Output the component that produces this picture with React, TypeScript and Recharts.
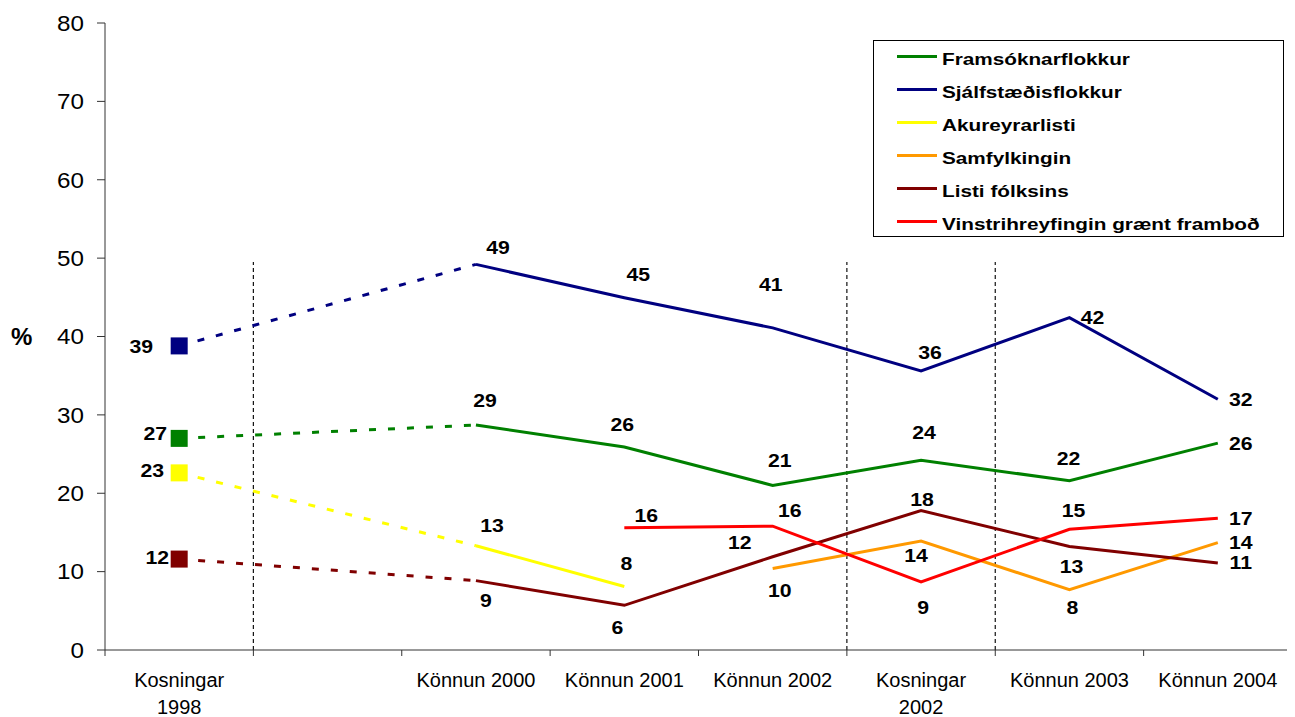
import React from 'react';
import { LineChart, Line, XAxis, YAxis, ReferenceLine, Legend, LabelList } from 'recharts';

// ---------- data ----------
const categories = [
  'Kosningar\n1998',
  '',
  'Könnun 2000',
  'Könnun 2001',
  'Könnun 2002',
  'Kosningar\n2002',
  'Könnun 2003',
  'Könnun 2004',
];
const yTicks = [0, 10, 20, 30, 40, 50, 60, 70, 80];

const framsokn = [27.0, null, 28.7, 25.9, 21.0, 24.2, 21.6, 26.4];
const sjalfstaedis = [38.8, null, 49.2, 44.95, 41.1, 35.6, 42.4, 32.0];
const akureyrarlisti = [22.6, null, 13.3, 8.1, null, null, null, null];
const samfylkingin = [null, null, null, null, 10.4, 13.9, 7.7, 13.7];
const listiFolksins = [11.6, null, 8.85, 5.7, 11.9, 17.8, 13.2, 11.1];
const vinstriGraent = [null, null, null, 15.6, 15.8, 8.7, 15.4, 16.8];

// category boundaries (after these category indices) where a dashed divider is drawn
const dividerAfter = [0, 4, 5];
const dividerTop = 49.5;

// ---------- layout / style ----------
const FONT = '"Liberation Sans", Arial, Helvetica, sans-serif';
const CHART_W = 1287;
const CHART_H = 709;
const MARGIN = { top: 15, right: 3, left: 0, bottom: 0 };
const Y_W = 97;
const X_H = 67;
const PLOT_W = CHART_W - MARGIN.left - MARGIN.right - Y_W;
const HALF_STEP = PLOT_W / categories.length / 2;

type Series = { key: string; name: string; color: string; values: (number | null)[] };

const series: Series[] = [
  { key: 'fram', name: 'Framsóknarflokkur', color: '#008000', values: framsokn },
  { key: 'sjalf', name: 'Sjálfstæðisflokkur', color: '#000080', values: sjalfstaedis },
  { key: 'akur', name: 'Akureyrarlisti', color: '#FFFF00', values: akureyrarlisti },
  { key: 'samf', name: 'Samfylkingin', color: '#FF9900', values: samfylkingin },
  { key: 'listi', name: 'Listi fólksins', color: '#800000', values: listiFolksins },
  { key: 'vg', name: 'Vinstrihreyfingin grænt framboð', color: '#FF0000', values: vinstriGraent },
];

// label placement relative to each point (label centre), per series and category index
const labelOffsets: Record<string, Record<number, [number, number]>> = {
  fram: { 0: [-24, -5], 2: [9, -25], 3: [-2, -22], 4: [7, -25], 5: [3, -28], 6: [-1, -22], 7: [23, 0] },
  sjalf: { 0: [-38, 1], 2: [22, -17], 3: [14, -23], 4: [-2, -43], 5: [9, -18], 6: [23, 0], 7: [23, 0] },
  akur: { 0: [-27, -2], 2: [16, -20], 3: [2, -23] },
  samf: { 4: [7, 22], 5: [-5, 14], 6: [3, 18], 7: [23, 0] },
  listi: { 0: [-22, -2], 2: [10, 20], 3: [-7, 22], 4: [-33, -14], 5: [1, -11], 6: [2, 20], 7: [23, 0] },
  vg: { 3: [22, -12], 4: [17, -16], 5: [2, 26], 6: [4, -19], 7: [23, 0] },
};

const rows = categories.map((cat, i) => {
  const row: Record<string, any> = { idx: i, cat };
  series.forEach((s) => {
    const v = s.values[i];
    row[s.key] = i >= 1 ? v : null;
    const hasStart = s.values[0] != null;
    row[s.key + '_d'] = hasStart && (i === 0 || i === 2) ? v : null;
  });
  return row;
});

const xTicks = categories.map((_, i) => i - 0.5).concat([categories.length - 0.5]);

const makeLabel = (key: string, onlyFirst: boolean) => (props: any) => {
  const { x, y, value, index } = props;
  if (value == null || x == null || y == null) return null;
  if (onlyFirst && index !== 0) return null;
  if (!onlyFirst && index === 0) return null;
  const off = labelOffsets[key]?.[index] || [0, -20];
  return (
    <g transform={`translate(${x + off[0]},${y + off[1]})`}>
      <text
        x={0}
        y={0}
        dy="0.36em"
        textAnchor="middle"
        transform="scale(1.18,1)"
        fontFamily={FONT}
        fontSize={18}
        fontWeight="bold"
        fill="#000"
      >
        {Math.round(value)}
      </text>
    </g>
  );
};

const squareDot = (color: string) => (props: any) => {
  const { cx, cy, index } = props;
  if (index !== 0 || cx == null || cy == null) return <g key={`d-${index}`} />;
  return <rect key={`d-${index}`} x={cx - 8.5} y={cy - 8.5} width={17} height={17} fill={color} />;
};

const XTick = (props: any) => {
  const { x, y, payload } = props;
  const v = payload.value;
  const i = Math.round(v + 0.5);
  if (i < 0 || i >= categories.length) return <g />;
  const lines = categories[i].split('\n');
  return (
    <g>
      {lines.map((ln, k) => (
        <text
          key={k}
          x={x + HALF_STEP}
          y={y + 29 + k * 27}
          textAnchor="middle"
          fontFamily={FONT}
          fontSize={20}
          fill="#000"
        >
          {ln}
        </text>
      ))}
    </g>
  );
};

const YTick = (props: any) => {
  const { x, y, payload } = props;
  return (
    <g transform={`translate(${x},${y})`}>
      <text x={0} y={0} dy="0.355em" textAnchor="end" transform="scale(1.1,1)" fontFamily={FONT} fontSize={22} fill="#000">
        {payload.value}
      </text>
    </g>
  );
};

const LegendBox = () => (
  <div
    style={{
      width: 411,
      height: 197,
      boxSizing: 'border-box',
      border: '1px solid #000',
      background: '#fff',
      position: 'relative',
      fontFamily: FONT,
    }}
  >
    {series.map((s, i) => (
      <div key={s.key}>
        <div
          style={{
            position: 'absolute',
            left: 23,
            top: 14 + i * 33,
            width: 40,
            height: 3,
            background: s.color,
          }}
        />
        <div
          style={{
            position: 'absolute',
            left: 68,
            top: 7.5 + i * 33,
            height: 22,
            lineHeight: '22px',
            fontSize: 17,
            fontWeight: 'bold',
            color: '#000',
            whiteSpace: 'nowrap',
            transform: 'scaleX(1.22)',
            transformOrigin: 'left center',
          }}
        >
          {s.name}
        </div>
      </div>
    ))}
  </div>
);

export default function App() {
  return (
    <div style={{ width: CHART_W, height: CHART_H, fontFamily: FONT }}>
      <LineChart width={CHART_W} height={CHART_H} data={rows} margin={MARGIN}>
        <XAxis
          type="number"
          dataKey="idx"
          domain={[-0.5, categories.length - 0.5]}
          ticks={xTicks}
          interval={0}
          height={X_H}
          tickSize={6}
          tick={<XTick />}
          stroke="#333"
          allowDecimals
        />
        <YAxis
          type="number"
          domain={[0, 80]}
          ticks={yTicks}
          interval={0}
          width={Y_W}
          tickSize={8}
          tickMargin={13}
          tick={<YTick />}
          stroke="#333"
          label={{
            value: '%',
            position: 'insideLeft',
            offset: 3,
            style: { fontSize: 24, fontWeight: 'bold', fill: '#000', fontFamily: FONT },
          }}
        />
        {dividerAfter.map((d) => (
          <ReferenceLine
            key={`div-${d}`}
            segment={[
              { x: d + 0.5, y: 0 },
              { x: d + 0.5, y: dividerTop },
            ]}
            stroke="#111"
            strokeWidth={1.2}
            strokeDasharray="4 3"
          />
        ))}
        <Legend
          layout="vertical"
          align="center"
          verticalAlign="middle"
          content={<LegendBox />}
          wrapperStyle={{ position: 'absolute', left: 865, top: 32, width: 411, height: 197 }}
        />
        {series.map((s) => (
          <Line
            key={s.key + '_d'}
            dataKey={s.key + '_d'}
            stroke={s.color}
            strokeWidth={3}
            strokeDasharray="7 12"
            connectNulls
            dot={squareDot(s.color)}
            activeDot={false}
            legendType="none"
            isAnimationActive={false}
          >
            <LabelList dataKey={s.key + '_d'} content={makeLabel(s.key, true)} />
          </Line>
        ))}
        {series.map((s) => (
          <Line
            key={s.key}
            dataKey={s.key}
            name={s.name}
            stroke={s.color}
            strokeWidth={3}
            dot={false}
            activeDot={false}
            isAnimationActive={false}
          >
            <LabelList dataKey={s.key} content={makeLabel(s.key, false)} />
          </Line>
        ))}
      </LineChart>
    </div>
  );
}
